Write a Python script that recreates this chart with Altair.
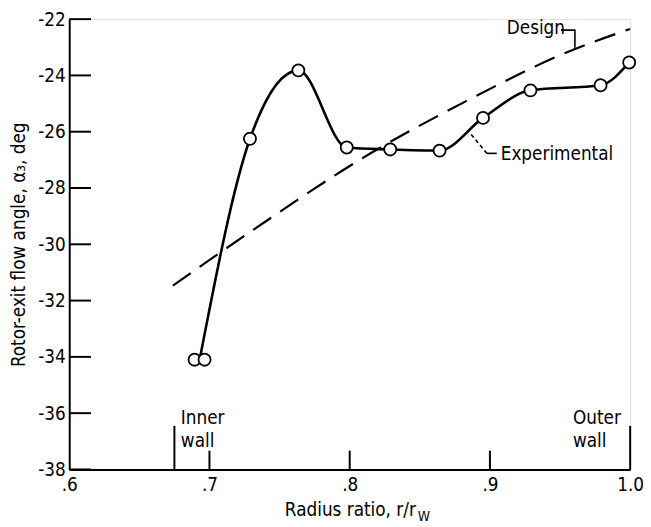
import altair as alt
import pandas as pd

FONT = "Liberation Sans Narrow, DejaVu Sans Condensed, Roboto Condensed, Arial Narrow, sans-serif"
FS = 19

# ---- data ----
# experimental rotor-exit flow angle (circles)
exp_r = [0.6894, 0.6965, 0.7289, 0.7634, 0.7979, 0.8289, 0.8641, 0.8951, 0.9289, 0.9789, 0.9993]
exp_a = [-34.1, -34.1, -26.25, -23.82, -26.56, -26.63, -26.67, -25.51, -24.53, -24.35, -23.54]

# faired experimental curve (starts between the twin hub readings)
curve_r = [0.693, 0.7289, 0.7634, 0.7979, 0.8289, 0.8641, 0.8951, 0.9289, 0.9789, 0.9993]
curve_a = [-34.1, -26.25, -23.82, -26.56, -26.63, -26.67, -25.51, -24.53, -24.35, -23.54]

# design curve (dashed)
design_r = [0.6739, 0.7338, 0.8134, 0.8817, 0.9577, 1.0]
design_a = [-31.47, -29.40, -26.81, -24.95, -23.12, -22.35]

# axis ticks
x_ticks = [0.6, 0.7, 0.8, 0.9, 1.0]
x_inner_ticks = [0.7, 0.8, 0.9]
y_ticks = [-38, -36, -34, -32, -30, -28, -26, -24, -22]

# wall markers
wall_r = [0.675, 1.0]
wall_top = [-36.45, -36.45]
wall_bot = [-38, -38]

# annotation texts
labels_txt = ["Design", "Experimental", "Inner", "wall", "Outer", "wall"]
labels_r = [0.912, 0.9077, 0.6796, 0.6796, 0.9592, 0.9592]
labels_a = [-22.32, -26.81, -36.18, -36.98, -36.18, -36.98]

# leader lines
lead_design_r = [0.9507, 0.9606, 0.9606]
lead_design_a = [-22.39, -22.39, -23.02]
lead_exp_dash_r = [0.8866, 0.8979]
lead_exp_dash_a = [-26.10, -26.77]
lead_exp_solid_r = [0.8979, 0.9049]
lead_exp_solid_a = [-26.77, -26.77]

# x-axis title pieces (title with subscript)
xt_txt = ["Radius ratio, r/r"]
xt_r = [0.8472]
xt_a = [-39.44]
xsub_txt = ["W"]
xsub_r = [0.8486]
xsub_a = [-39.70]

xs = alt.Scale(domain=[0.6, 1.0], nice=False, zero=False)
ys = alt.Scale(domain=[-38, -22], nice=False, zero=False)

XAXIS = alt.Axis(
    values=x_ticks, tickSize=0, labelPadding=6, grid=False, title=None,
    labelFlush=False, labelOverlap=False,
    labelExpr="datum.value == 1 ? '1.0' : replace(format(datum.value, '.1f'), '0.', '.')",
    domainWidth=2, domainColor="black", labelColor="black",
    labelFont=FONT, labelFontSize=FS)
YAXIS = alt.Axis(
    values=y_ticks, tickSize=0, labelPadding=4, grid=False,
    labelFlush=False, labelOverlap=False,
    title="Rotor-exit flow angle, α₃, deg", titleFont=FONT, titleFontSize=FS,
    titleFontWeight="normal", titleColor="black", titlePadding=9,
    labelExpr="'-' + format(abs(datum.value), 'd')",
    domainWidth=2, domainColor="black", labelColor="black",
    labelFont=FONT, labelFontSize=FS)


def X(field="r"):
    return alt.X(f"{field}:Q", scale=xs, axis=XAXIS, title=None)


def Y(field="a"):
    return alt.Y(f"{field}:Q", scale=ys, axis=YAXIS, title="Rotor-exit flow angle, α₃, deg")


exp_df = pd.DataFrame({"r": exp_r, "a": exp_a})
curve_df = pd.DataFrame({"r": curve_r, "a": curve_a, "o": list(range(len(curve_r)))})
design_df = pd.DataFrame({"r": design_r, "a": design_a, "o": list(range(len(design_r)))})

ytick_layer = alt.Chart(pd.DataFrame({"a": y_ticks})).mark_rule(
    color="black", strokeWidth=2).encode(y=Y(), x=alt.value(0), x2=alt.value(22))

xtick_layer = alt.Chart(pd.DataFrame({"r": x_inner_ticks})).mark_rule(
    color="black", strokeWidth=2).encode(x=X(), y=alt.value(456), y2=alt.value(437))

wall_layer = alt.Chart(pd.DataFrame({"r": wall_r, "a": wall_bot, "top": wall_top})).mark_rule(
    color="black", strokeWidth=2).encode(x=X(), y=Y(), y2="top:Q")

design_layer = alt.Chart(design_df).mark_line(
    color="black", strokeWidth=2.2, strokeDash=[22, 11], interpolate="monotone").encode(
    x=X(), y=Y(), order="o:Q")

curve_layer = alt.Chart(curve_df).mark_line(
    color="black", strokeWidth=2.6, interpolate="monotone").encode(
    x=X(), y=Y(), order="o:Q")

pts_layer = alt.Chart(exp_df).mark_point(
    shape="circle", filled=True, fill="white", stroke="black", strokeWidth=1.8,
    size=150, opacity=1).encode(x=X(), y=Y())


def path(rs, as_, dash=None, width=1.6):
    df = pd.DataFrame({"r": rs, "a": as_, "o": list(range(len(rs)))})
    kw = dict(color="black", strokeWidth=width)
    if dash:
        kw["strokeDash"] = dash
    return alt.Chart(df).mark_line(**kw).encode(x=X(), y=Y(), order="o:Q")


lead1 = path(lead_design_r, lead_design_a)
lead2 = path(lead_exp_dash_r, lead_exp_dash_a, dash=[4, 3])
lead3 = path(lead_exp_solid_r, lead_exp_solid_a)

txt_layer = alt.Chart(pd.DataFrame({"r": labels_r, "a": labels_a, "t": labels_txt})).mark_text(
    align="left", baseline="middle", font=FONT, fontSize=FS, color="black").encode(
    x=X(), y=Y(), text="t:N")

xt_layer = alt.Chart(pd.DataFrame({"r": xt_r, "a": xt_a, "t": xt_txt})).mark_text(
    align="right", baseline="middle", font=FONT, fontSize=FS, color="black").encode(
    x=X(), y=Y(), text="t:N")

xsub_layer = alt.Chart(pd.DataFrame({"r": xsub_r, "a": xsub_a, "t": xsub_txt})).mark_text(
    align="left", baseline="middle", font=FONT, fontSize=14, color="black").encode(
    x=X(), y=Y(), text="t:N")

chart = alt.layer(
    ytick_layer, xtick_layer, wall_layer, design_layer, curve_layer, pts_layer,
    lead1, lead2, lead3, txt_layer, xt_layer, xsub_layer
).properties(
    width=568, height=456,
    autosize=alt.AutoSizeParams(type="none"),
    padding={"left": 62, "top": 8, "right": 13, "bottom": 55},
).configure_view(strokeWidth=0).configure(background="white")

chart.save("out.html", embed_options={"renderer": "svg", "actions": False})
